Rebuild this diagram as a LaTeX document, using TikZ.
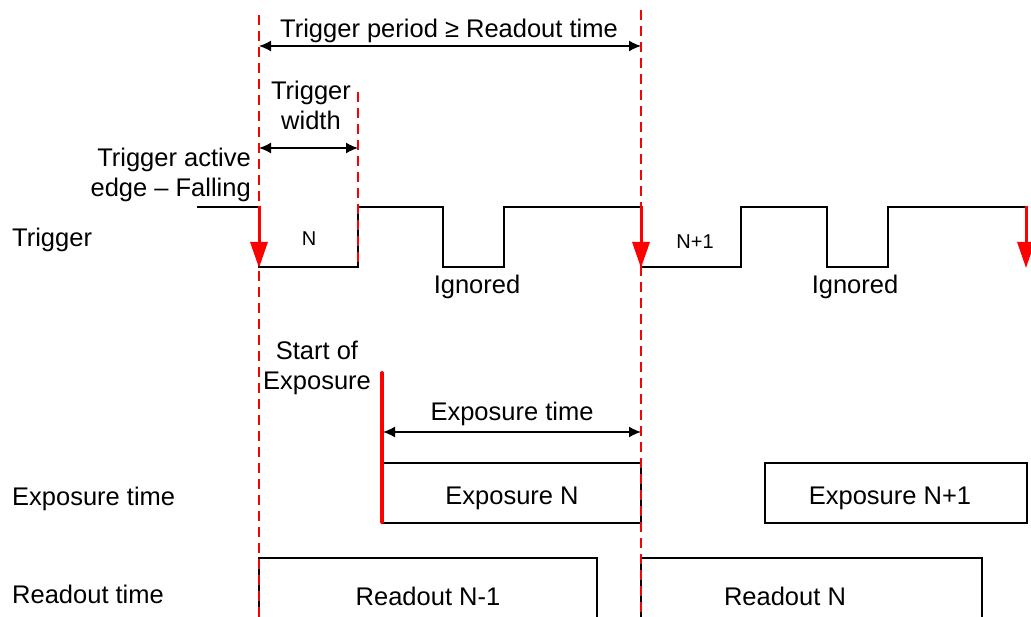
\documentclass[tikz,border=0pt]{standalone}
\usepackage{fontspec}
\setmainfont{Liberation Sans}
\usetikzlibrary{arrows.meta}
\begin{document}
\begin{tikzpicture}[x=1pt,y=-1pt,
  txt/.style={inner sep=0pt,align=center,font=\fontsize{25.5}{30}\selectfont},
  small/.style={inner sep=0pt,font=\fontsize{20}{22}\selectfont},
  sig/.style={draw=black,line width=1.6pt},
  guide/.style={draw=red,line width=1.2pt,dash pattern=on 10pt off 6pt},
  edge/.style={draw=red,line width=3pt,-{Triangle[length=26pt,width=17pt]}},
  dim/.style={draw=black,line width=1.4pt,{Latex[length=12pt,width=11pt]}-{Latex[length=12pt,width=11pt]}},
  box/.style={draw=black,line width=1.6pt}]
\useasboundingbox (0,0) rectangle (1031,617);
% row labels
\node[txt,anchor=west] (lTrig) at (12,240) {Trigger};
\node[txt,anchor=west] (lExp) at (12,499) {Exposure time};
\node[txt,anchor=west] (lRead) at (12,594) {Readout time};
% guide coordinates
\coordinate (g1t) at (259,15); \coordinate (g1b) at (259,617);
\coordinate (g2t) at (641,10); \coordinate (g2b) at (641,617);
\coordinate (g3t) at (358,92); \coordinate (g3b) at (358,267);
% trigger waveform
\draw[sig] (197,207) -- (259,207) -- (259,267) -- (358,267) -- (358,207) -- (443,207) -- (443,267)
  -- (504,267) -- (504,207) -- (641,207) -- (641,267) -- (741,267) -- (741,207) -- (827,207)
  -- (827,267) -- (888,267) -- (888,207) -- (1026,207);
\coordinate (f1t) at (259,206); \coordinate (f1b) at (259,268);
\coordinate (f2t) at (641,206); \coordinate (f2b) at (641,268);
\coordinate (f3t) at (1026,206); \coordinate (f3b) at (1026,268);
\draw[edge] (f1t) -- (f1b);
\draw[edge] (f2t) -- (f2b);
\draw[edge] (f3t) -- (f3b);
\node[small] (nN) at (309,239) {N};
\node[small] (nN1) at (695,242) {N+1};
\node[txt] (ign1) at (477,287) {Ignored};
\node[txt] (ign2) at (855,287) {Ignored};
% exposure boxes
\node[box,minimum width=259pt,minimum height=60pt,inner sep=0pt] (expN) at (511.5,493) {};
\node[txt] at (512,498) {Exposure N};
\node[box,minimum width=262pt,minimum height=60pt,inner sep=0pt] (expN1) at (896,493) {};
\node[txt] at (890,498) {Exposure N+1};
% readout boxes (open at bottom)
\coordinate (r1a) at (259,620); \coordinate (r1b) at (259,558); \coordinate (r1c) at (597,558); \coordinate (r1d) at (597,620);
\draw[box] (r1a) -- (r1b) -- (r1c) -- (r1d);
\node[txt] (rN1) at (428,596) {Readout N-1};
\coordinate (r2a) at (641,620); \coordinate (r2b) at (641,558); \coordinate (r2c) at (982,558); \coordinate (r2d) at (982,620);
\draw[box] (r2a) -- (r2b) -- (r2c) -- (r2d);
\node[txt] (rN) at (785,596) {Readout N};
% guides
\draw[guide] (g1t) -- (g1b);
\draw[guide] (g2t) -- (g2b);
\draw[guide] (g3t) -- (g3b);
% start of exposure
\coordinate (s1) at (382,373); \coordinate (s2) at (382,522);
\draw[red,line width=4pt,line cap=round] (s1) -- (s2);
\node[txt] (soe) at (317,368) {Start of\\Exposure};
% dimension arrows
\coordinate (d1a) at (259,46); \coordinate (d1b) at (641,46);
\draw[dim] (d1a) -- (d1b);
\node[txt] (tp) at (449,31) {Trigger period ≥ Readout time};
\coordinate (d2a) at (259,148); \coordinate (d2b) at (358,148);
\draw[dim] (d2a) -- (d2b);
\node[txt] (tw) at (311,105) {Trigger\\width};
\node[txt,align=right,anchor=east] (tae) at (251,175) {Trigger active\\edge – Falling};
\coordinate (d3a) at (383,432); \coordinate (d3b) at (641,432);
\draw[dim] (d3a) -- (d3b);
\node[txt] (et) at (512,414) {Exposure time};
\end{tikzpicture}
\end{document}
